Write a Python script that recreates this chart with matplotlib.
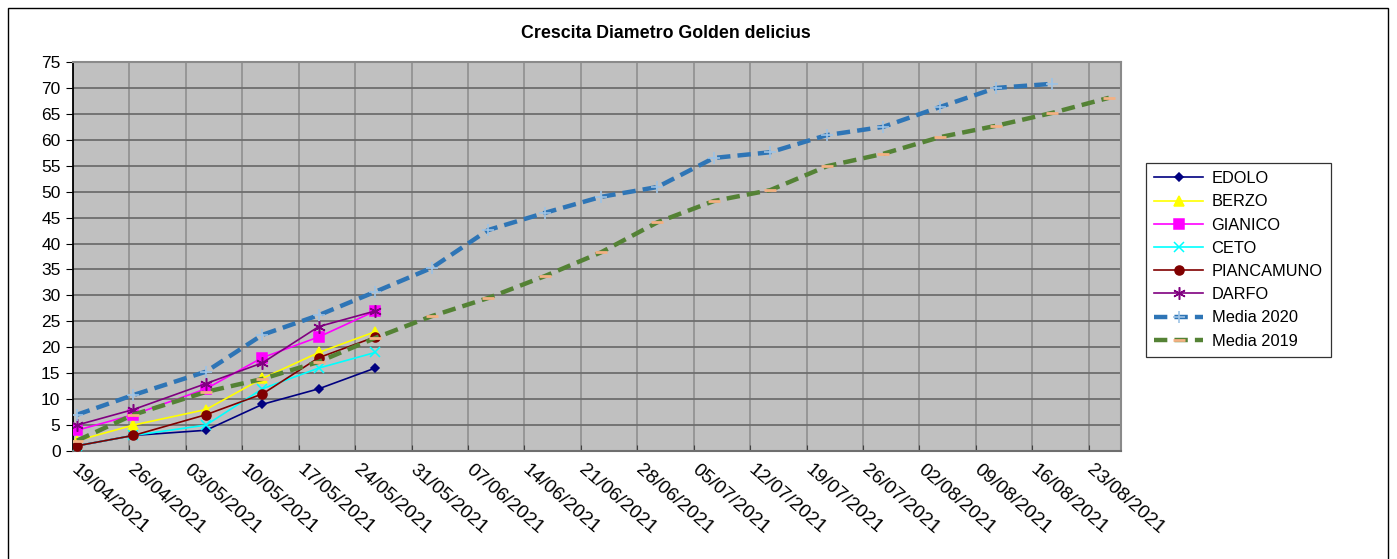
import numpy as np
import pandas as pd
import matplotlib
matplotlib.use('Agg')
import matplotlib.pyplot as plt
import matplotlib.dates as mdates
import matplotlib.transforms as mtransforms
from matplotlib.patches import Rectangle

plt.rcParams['font.family'] = ['Liberation Sans', 'DejaVu Sans']

# Survey dates (Excel date axis, points sit in the middle of the day slot)
dates = ['19/04/2021', '26/04/2021', '05/05/2021', '12/05/2021', '19/05/2021',
         '26/05/2021', '02/06/2021', '09/06/2021', '16/06/2021', '23/06/2021',
         '30/06/2021', '07/07/2021', '14/07/2021', '21/07/2021', '28/07/2021',
         '04/08/2021', '11/08/2021', '18/08/2021', '25/08/2021']

edolo = [1, 3, 4, 9, 12, 16]
berzo = [2, 5, 8, 14, 19, 23]
gianico = [4, 7, 12, 18, 22, 27]
ceto = [1, 3, 5, 12, 16, 19]
piancamuno = [1, 3, 7, 11, 18, 22]
darfo = [5, 8, 13, 17, 24, 27]

media_2020 = [7, 10.8, 15.3, 22.4, 26.2, 30.7, 35.3, 42.6, 45.9, 49.0, 50.9,
              56.5, 57.6, 60.9, 62.5, 66.3, 70.0, 70.8]
media_2019 = [2, 7, 11.4, 13.9, 17.2, 21.8, 26, 29.5, 33.7, 38.3, 44.1, 48.2,
              50.3, 54.9, 57.3, 60.5, 62.7, 65.2, 68.1]

tick_start = '19/04/2021'
tick_end = '23/08/2021'
axis_end = '27/08/2021'

x = pd.to_datetime(dates, format='%d/%m/%Y') + pd.Timedelta(hours=12)

fig = plt.figure(figsize=(13.97, 5.59), dpi=100)
fig.patch.set_facecolor('white')

# outer chart frame
fig.add_artist(Rectangle((8 / 1397, -0.05), 1380 / 1397, 1.05 - 8 / 559,
                         transform=fig.transFigure, fill=False,
                         edgecolor='black', lw=1))

ax = fig.add_axes([73 / 1397, 108 / 559, 1048 / 1397, 389 / 559])
ax.set_facecolor('#c0c0c0')

stations = [
    ('EDOLO', edolo, '#000080', 'D', 4.5),
    ('BERZO', berzo, '#ffff00', '^', 7),
    ('GIANICO', gianico, '#ff00ff', 's', 7),
    ('CETO', ceto, '#00ffff', 'x', 7),
    ('PIANCAMUNO', piancamuno, '#800000', 'o', 6.5),
    ('DARFO', darfo, '#800080', (6, 2, 0), 9),
]
for name, vals, col, mk, ms in stations:
    ax.plot(x[:len(vals)], vals, color=col, lw=1.2, marker=mk, ms=ms,
            mfc=col, mec=col, mew=1.1, label=name, zorder=3)

l20, = ax.plot(x[:len(media_2020)], media_2020, color='#2e75b6', lw=3.2,
               marker='+', ms=9, mec='#9dc3e6', mew=1.2,
               label='Media 2020', zorder=4)
l20.set_dashes((3, 1.6))
l19, = ax.plot(x[:len(media_2019)], media_2019, color='#548235', lw=3.2,
               marker='_', ms=9, mec='#f4b183', mew=2,
               label='Media 2019', zorder=4)
l19.set_dashes((3, 1.6))

x0 = pd.to_datetime(tick_start, format='%d/%m/%Y')
x1 = pd.to_datetime(axis_end, format='%d/%m/%Y')
ax.set_xlim(x0, x1)
ax.set_ylim(0, 75)
ax.set_yticks(np.arange(0, 80, 5))
ticks = pd.date_range(x0, pd.to_datetime(tick_end, format='%d/%m/%Y'), freq='7D')
ax.set_xticks(ticks)
ax.xaxis.set_major_formatter(mdates.DateFormatter('%d/%m/%Y'))
ax.tick_params(axis='x', direction='in', length=4, color='#404040',
               labelsize=13.8, pad=7)
ax.tick_params(axis='y', direction='out', length=5, color='black',
               labelsize=12.5, pad=4)
shift = mtransforms.ScaledTranslation(6 / 100, 0, fig.dpi_scale_trans)
for lab in ax.get_xticklabels():
    lab.set_rotation(-41)
    lab.set_ha('left')
    lab.set_va('top')
    lab.set_rotation_mode('anchor')
    lab.set_transform(lab.get_transform() + shift)

ax.grid(axis='y', color='#6e6e6e', lw=1.3, zorder=1)
ax.grid(axis='x', color='#8f8f8f', lw=1.2, zorder=1)
ax.set_axisbelow(True)
for side in ['top', 'right']:
    ax.spines[side].set_color('#8a8a8a')
    ax.spines[side].set_linewidth(1.5)
ax.spines['bottom'].set_color('#6e6e6e')
ax.spines['bottom'].set_linewidth(1.5)
ax.spines['left'].set_color('black')
ax.spines['left'].set_linewidth(1.3)

fig.text(666 / 1397, 1 - 34 / 559, 'Crescita Diametro Golden delicius',
         ha='center', va='center', fontsize=12.8, weight='bold')

leg = ax.legend(loc='upper left', bbox_to_anchor=(1146 / 1397, 1 - 163 / 559),
                bbox_transform=fig.transFigure, frameon=True, fancybox=False,
                edgecolor='black', fontsize=11.8, handlelength=3.0,
                labelspacing=0.5, borderpad=0.5, handletextpad=0.5,
                borderaxespad=0)
leg.get_frame().set_linewidth(0.9)

fig.savefig('out.png', dpi=100, facecolor='white')
